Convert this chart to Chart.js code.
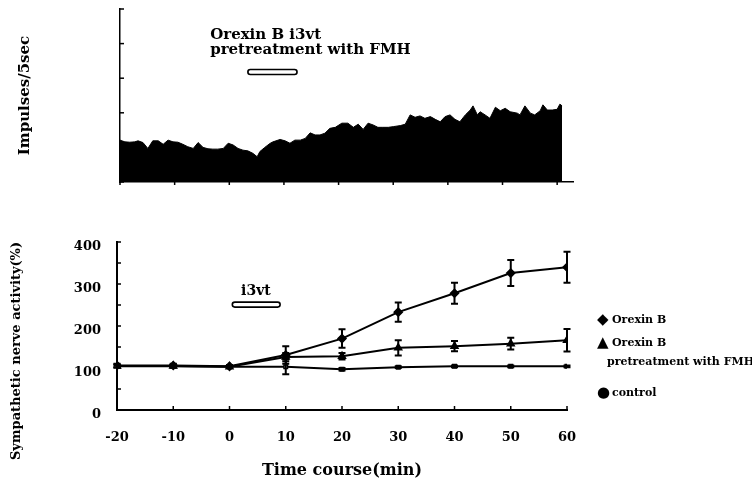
<!DOCTYPE html>
<html>
<head>
<meta charset="utf-8">
<script src="https://cdn.jsdelivr.net/npm/chart.js@4.4.1/dist/chart.umd.min.js"></script>
<style>
  body { margin: 0; background: #fff; width: 752px; height: 492px; position: relative; overflow: hidden; }
  #top { position: absolute; left: 0; top: 0; }
  #bottom { position: absolute; left: 0; top: 200px; }
  .leg { position: absolute; font-family: "DejaVu Serif", serif; font-weight: bold; font-size: 11px; line-height: 14px; color: #000; white-space: nowrap; }
  .leg b { font-family: "DejaVu Sans", sans-serif; font-size: 15px; display: inline-block; width: 15px; vertical-align: -1px; }
</style>
</head>
<body>
<canvas id="top" width="752" height="200"></canvas>
<canvas id="bottom" width="752" height="292"></canvas>

<div class="leg" style="left:597px;top:312px"><b>◆</b>Orexin B</div>
<div class="leg" style="left:597px;top:335px"><b>▲</b>Orexin B</div>
<div class="leg" style="left:607px;top:355px">pretreatment with FMH</div>
<div class="leg" style="left:597px;top:385px"><b>●</b>control</div>

<script>
// recording trace (top panel)
const traceTime = [-20.0, -19.1, -18.2, -17.3, -16.7, -15.8, -14.9, -14.0, -13.0, -12.1, -11.2, -10.3,
  -9.4, -8.5, -7.6, -6.6, -5.7, -4.8, -3.9, -3.0, -2.1, -1.1, -0.2, 0.7, 1.6, 2.5, 3.4, 4.3, 5.1,
  5.6, 6.5, 7.5, 8.0, 9.3, 10.2, 11.1, 12.0, 13.0, 13.9, 14.8, 15.7, 16.6, 17.5, 18.4, 19.4, 20.6,
  21.7, 22.7, 23.6, 24.5, 25.4, 26.3, 27.2, 28.1, 29.1, 30.0, 31.3, 32.2, 33.1, 34.0, 34.9, 35.8,
  36.8, 37.7, 38.6, 39.5, 40.4, 41.3, 42.2, 43.2, 44.1, 44.6, 45.4, 45.9, 46.8, 47.7, 48.7, 49.6,
  50.5, 51.4, 52.7, 53.2, 54.1, 55.1, 55.9, 56.9, 57.4, 58.2, 59.1, 60.0, 60.5, 60.9];
const traceLevel = [1.21, 1.16, 1.15, 1.16, 1.19, 1.14, 0.97, 1.19, 1.19, 1.09, 1.21, 1.16,
  1.15, 1.09, 1.02, 0.97, 1.14, 1.00, 0.96, 0.95, 0.95, 0.97, 1.12, 1.07, 0.97, 0.92, 0.90, 0.83, 0.73,
  0.88, 1.00, 1.12, 1.16, 1.23, 1.19, 1.12, 1.21, 1.21, 1.26, 1.42, 1.36, 1.36, 1.41, 1.55, 1.58, 1.70,
  1.70, 1.58, 1.67, 1.52, 1.70, 1.65, 1.58, 1.58, 1.58, 1.60, 1.63, 1.67, 1.94, 1.87, 1.91, 1.84,
  1.89, 1.81, 1.74, 1.89, 1.94, 1.81, 1.74, 1.94, 2.08, 2.20, 1.94, 2.03, 1.94, 1.84, 2.16, 2.06,
  2.13, 2.03, 1.99, 1.94, 2.20, 1.99, 1.94, 2.06, 2.23, 2.08, 2.08, 2.10, 2.25, 2.20];

// sympathetic nerve activity (bottom panel)
const times = [-20, -10, 0, 10, 20, 30, 40, 50, 60];
const orexinB = [106, 106, 104, 131, 170, 233, 278, 326, 340];
const orexinBErr = [4, 4, 3, 21, 22, 23, 25, 31, 37];
const orexinFMH = [105, 105, 103, 126, 128, 148, 152, 158, 166];
const orexinFMHErr = [4, 4, 3, 10, 8, 18, 12, 14, 27];
const control = [104, 104, 103, 103, 97, 102, 104, 104, 104];
const controlErr = [3, 3, 2, 18, 3, 2, 2, 2, 2];

const FONT = "DejaVu Serif";

function pts(xs, ys) { return xs.map((x, i) => ({ x: x, y: ys[i] })); }

// small tick marks, drawn with the chart's own scales
const tickMarks = {
  id: 'tickMarks',
  afterDraw(chart, args, o) {
    const { ctx, chartArea } = chart;
    const xs = chart.scales.x, ys = chart.scales.y;
    ctx.save();
    ctx.strokeStyle = '#000';
    ctx.lineWidth = 1.5;
    xs.ticks.forEach(t => {
      if (t.value % 10 !== 0) return;
      const px = xs.getPixelForValue(t.value);
      ctx.beginPath();
      ctx.moveTo(px, chartArea.bottom);
      ctx.lineTo(px, chartArea.bottom + o.xLen);
      ctx.stroke();
    });
    ys.ticks.forEach(t => {
      const py = ys.getPixelForValue(t.value);
      ctx.beginPath();
      ctx.moveTo(chartArea.left, py);
      ctx.lineTo(chartArea.left + o.yLen, py);
      ctx.stroke();
    });
    ctx.restore();
  }
};

// error bars
const errorBars = {
  id: 'errorBars',
  afterDatasetsDraw(chart) {
    const { ctx } = chart;
    const xs = chart.scales.x, ys = chart.scales.y;
    ctx.save();
    ctx.strokeStyle = '#000';
    ctx.lineWidth = 2;
    chart.data.datasets.forEach(ds => {
      if (!ds.errors) return;
      ds.data.forEach((p, i) => {
        const e = ds.errors[i];
        const px = xs.getPixelForValue(p.x);
        const y1 = ys.getPixelForValue(p.y + e), y2 = ys.getPixelForValue(p.y - e);
        ctx.beginPath();
        ctx.moveTo(px, y1); ctx.lineTo(px, y2);
        ctx.moveTo(px - 3.5, y1); ctx.lineTo(px + 3.5, y1);
        ctx.moveTo(px - 3.5, y2); ctx.lineTo(px + 3.5, y2);
        ctx.stroke();
      });
    });
    ctx.restore();
  }
};

// treatment bar and labels
const notes = {
  id: 'notes',
  afterDraw(chart, args, o) {
    const { ctx } = chart;
    const xs = chart.scales.x, ys = chart.scales.y;
    ctx.save();
    ctx.fillStyle = '#000';
    ctx.strokeStyle = '#000';
    (o.texts || []).forEach(t => {
      ctx.font = 'bold ' + t.size + 'px "' + FONT + '"';
      ctx.textAlign = t.align || 'left';
      ctx.textBaseline = 'middle';
      const x = t.px !== undefined ? t.px : xs.getPixelForValue(t.x);
      const y = t.py !== undefined ? t.py : ys.getPixelForValue(t.y);
      if (t.rotate) {
        ctx.save();
        ctx.translate(x, y);
        ctx.rotate(-Math.PI / 2);
        ctx.textAlign = 'center';
        ctx.fillText(t.text, 0, 0);
        ctx.restore();
      } else {
        ctx.fillText(t.text, x, y);
      }
    });
    if (o.bar) {
      const x1 = xs.getPixelForValue(o.bar.from), x2 = xs.getPixelForValue(o.bar.to);
      const yc = ys.getPixelForValue(o.bar.y);
      ctx.lineWidth = 1.6;
      ctx.fillStyle = '#fff';
      ctx.beginPath();
      ctx.roundRect(x1, yc - 2.5, x2 - x1, 5, 2.5);
      ctx.fill();
      ctx.stroke();
    }
    ctx.restore();
  }
};

new Chart(document.getElementById('top'), {
  type: 'line',
  data: {
    datasets: [{
      data: pts(traceTime, traceLevel),
      borderColor: '#000',
      backgroundColor: '#000',
      borderWidth: 1,
      pointRadius: 0,
      fill: 'origin',
      tension: 0
    }]
  },
  options: {
    responsive: false,
    animation: false,
    layout: { padding: { top: 9, right: 179, left: 0, bottom: 0 } },
    plugins: {
      legend: { display: false },
      tooltip: { enabled: false },
      tickMarks: { xLen: 3, yLen: 4 },
      notes: {
        texts: [
          { text: 'Orexin B i3vt', x: -3.5, y: 4.25, size: 15 },
          { text: 'pretreatment with FMH', x: -3.5, y: 3.8, size: 15 }
        ],
        bar: { from: 3.4, to: 12.4, y: 3.18 }
      }
    },
    scales: {
      x: {
        type: 'linear', min: -20, max: 62.9,
        ticks: { display: false, stepSize: 10, includeBounds: false },
        grid: { display: false },
        border: { display: true, color: '#000', width: 1.5 },
        afterFit: s => { s.height = 18; }
      },
      y: {
        min: 0, max: 5,
        ticks: { display: false, stepSize: 1 },
        grid: { display: false },
        border: { display: true, color: '#000', width: 1.5 },
        title: {
          display: true, text: 'Impulses/5sec', color: '#000',
          font: { family: FONT, weight: 'bold', size: 15 },
          padding: { top: 16, bottom: 0 }
        },
        afterFit: s => { s.width = 120; }
      }
    }
  },
  plugins: [tickMarks, notes]
});

const lineStyle = { borderColor: '#000', borderWidth: 2, tension: 0, pointBorderColor: '#000', pointBorderWidth: 1.5 };

new Chart(document.getElementById('bottom'), {
  type: 'line',
  data: {
    datasets: [
      Object.assign({ label: 'Orexin B', data: pts(times, orexinB), errors: orexinBErr,
        pointStyle: 'rectRot', pointRadius: 4, pointBackgroundColor: '#000' }, lineStyle),
      Object.assign({ label: 'Orexin B pretreatment with FMH', data: pts(times, orexinFMH), errors: orexinFMHErr,
        pointStyle: 'triangle', pointRadius: 4, pointBackgroundColor: '#000' }, lineStyle),
      Object.assign({ label: 'control', data: pts(times, control), errors: controlErr,
        pointStyle: 'rect', pointRadius: 2.5, pointBackgroundColor: '#fff' }, lineStyle)
    ]
  },
  options: {
    responsive: false,
    animation: false,
    layout: { padding: { top: 42, right: 185, left: 0, bottom: 0 } },
    plugins: {
      legend: { display: false },
      tooltip: { enabled: false },
      tickMarks: { xLen: -4, yLen: 4 },
      notes: {
        texts: [
          { text: 'i3vt', x: 4.7, y: 283, size: 14, align: 'center' },
          { text: 'Sympathetic nerve activity(%)', px: 17, py: 151, size: 13, rotate: true }
        ],
        bar: { from: 0.5, to: 9, y: 251 }
      }
    },
    scales: {
      x: {
        type: 'linear', min: -20, max: 60,
        ticks: { stepSize: 10, color: '#000', padding: 20, font: { family: FONT, weight: 'bold', size: 13 } },
        grid: { display: false, drawTicks: false },
        border: { display: true, color: '#000', width: 2 },
        title: {
          display: true, text: 'Time course(min)', color: '#000',
          font: { family: FONT, weight: 'bold', size: 16 },
          padding: { top: 0, bottom: 12 }
        },
        afterFit: s => { s.height = 82; }
      },
      y: {
        min: 0, max: 400,
        ticks: {
          stepSize: 50, color: '#000', padding: 16, labelOffset: 5,
          font: { family: FONT, weight: 'bold', size: 13 },
          callback: v => (v % 100 === 0 ? v : '')
        },
        grid: { display: false, drawTicks: false },
        border: { display: true, color: '#000', width: 2 },
        afterFit: s => { s.width = 117; }
      }
    }
  },
  plugins: [tickMarks, errorBars, notes]
});
</script>
</body>
</html>
